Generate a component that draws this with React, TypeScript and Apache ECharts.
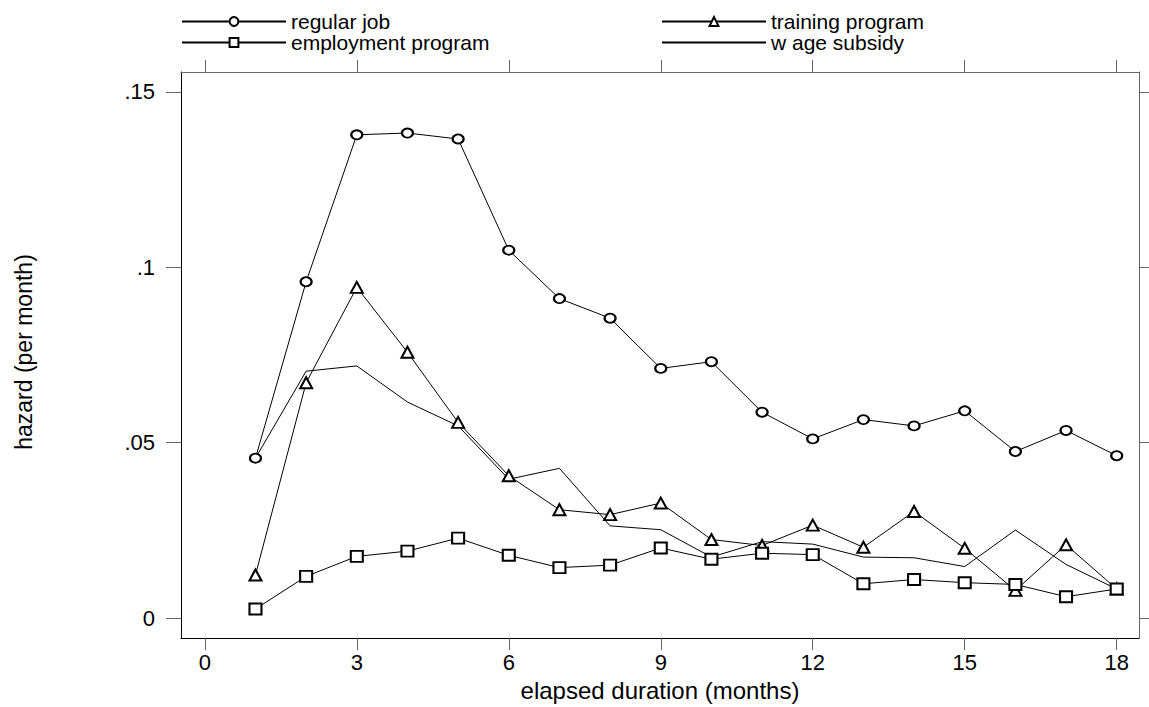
import React, { useEffect, useRef } from "react";
import * as echarts from "echarts";

const months = [1, 2, 3, 4, 5, 6, 7, 8, 9, 10, 11, 12, 13, 14, 15, 16, 17, 18];
const regularJob = [0.0456, 0.0959, 0.1378, 0.1383, 0.1366, 0.1049, 0.0911, 0.0855, 0.0712, 0.0731, 0.0587, 0.0511, 0.0566, 0.0548, 0.0591, 0.0475, 0.0535, 0.0463];
const trainingProgram = [0.0123, 0.0671, 0.0943, 0.0758, 0.0558, 0.0406, 0.0309, 0.0295, 0.0328, 0.0224, 0.0207, 0.0265, 0.0202, 0.0304, 0.0199, 0.0079, 0.0209, 0.0083];
const employmentProgram = [0.0026, 0.0119, 0.0176, 0.0191, 0.0228, 0.0179, 0.0144, 0.0151, 0.02, 0.0168, 0.0185, 0.0181, 0.0098, 0.011, 0.0101, 0.0096, 0.0061, 0.0083];
const wageSubsidy = [0.0456, 0.0704, 0.0719, 0.0616, 0.0548, 0.0396, 0.0427, 0.0263, 0.0252, 0.0174, 0.0218, 0.0211, 0.0174, 0.0172, 0.0147, 0.0251, 0.0153, 0.0083];

const xTicks = [0, 3, 6, 9, 12, 15, 18];
const yTicks = [0, 0.05, 0.1, 0.15];

const FONT = "'Liberation Sans', Arial, Helvetica, sans-serif";

export default function App() {
  const ref = useRef<HTMLDivElement>(null);
  useEffect(() => {
    if (!ref.current) return;
    const chart = echarts.init(ref.current, null, { renderer: "svg" });
    const pair = (ys: number[]) => months.map((m, i) => [m, ys[i]]);
    const lineStyle = { color: "#000", width: 1 };
    const mk = (name: string, ys: number[], symbol: string, size: number[] | number) => ({
      name,
      type: "line",
      data: pair(ys),
      symbol,
      symbolSize: size,
      showSymbol: symbol !== "none",
      lineStyle,
      itemStyle: { color: "#000", borderColor: "#000", borderWidth: 1 },
      emphasis: { disabled: true },
    });
    const xMin = -0.47, xMax = 18.44, yMin = -0.0057, yMax = 0.1557;
    const legendBase = {
      padding: 0,
      itemWidth: 104,
      itemHeight: 11,
      selectedMode: false,
      itemStyle: { borderWidth: 1 },
      textStyle: { fontSize: 21, lineHeight: 20, color: "#000", fontFamily: FONT },
    };
    chart.setOption({
      animation: false,
      backgroundColor: "#fff",
      textStyle: { fontFamily: FONT },
      grid: { left: 181, top: 72, right: 10, bottom: 68 },
      legend: [
        { ...legendBase, left: 181, top: 11, data: ["regular job"] },
        { ...legendBase, left: 661, top: 11, data: ["training program"] },
        { ...legendBase, left: 181, top: 32, data: ["employment program"] },
        {
          ...legendBase,
          left: 661,
          top: 32,
          data: [{ name: "w age subsidy", itemStyle: { opacity: 0 } }],
        },
      ],
      xAxis: [
        {
          type: "value",
          position: "bottom",
          min: xMin,
          max: xMax,
          axisLine: { show: true, onZero: false, lineStyle: { color: "#000", width: 1 } },
          axisTick: { show: true, customValues: xTicks, length: 12, lineStyle: { color: "#666" } },
          axisLabel: { customValues: xTicks, fontSize: 22, margin: 13, color: "#000", fontFamily: FONT },
          splitLine: { show: false },
          name: "elapsed duration (months)",
          nameLocation: "middle",
          nameGap: 35,
          nameTextStyle: { fontSize: 24, color: "#000", fontFamily: FONT, verticalAlign: "top" },
        },
        {
          type: "value",
          position: "top",
          min: xMin,
          max: xMax,
          axisLine: { show: true, onZero: false, lineStyle: { color: "#666", width: 1 } },
          axisTick: { show: true, customValues: xTicks, length: 12, lineStyle: { color: "#666" } },
          axisLabel: { show: false },
          splitLine: { show: false },
        },
      ],
      yAxis: [
        {
          type: "value",
          position: "left",
          min: yMin,
          max: yMax,
          axisLine: { show: true, onZero: false, lineStyle: { color: "#000", width: 1 } },
          axisTick: { show: true, customValues: yTicks, length: 15, lineStyle: { color: "#666" } },
          axisLabel: {
            customValues: yTicks,
            fontSize: 22,
            margin: 26,
            color: "#000",
            fontFamily: FONT,
            formatter: (v: number) => (v === 0 ? "0" : String(+v.toFixed(2)).replace(/^0\./, ".")),
          },
          splitLine: { show: false },
        },
        {
          type: "value",
          position: "right",
          min: yMin,
          max: yMax,
          axisLine: { show: true, onZero: false, lineStyle: { color: "#666", width: 1 } },
          axisTick: { show: true, customValues: yTicks, length: 10, lineStyle: { color: "#666" } },
          axisLabel: { show: false },
          splitLine: { show: false },
        },
      ],
      graphic: [
        {
          type: "text",
          x: 24,
          y: 352,
          rotation: Math.PI / 2,
          style: {
            text: "hazard (per month)",
            fontSize: 23,
            fontFamily: FONT,
            fill: "#000",
            align: "center",
            verticalAlign: "middle",
          },
        },
      ],
      series: [
        mk("regular job", regularJob, "emptyCircle", [11, 9]),
        mk("training program", trainingProgram, "emptyTriangle", [12, 11]),
        mk("employment program", employmentProgram, "emptyRect", [12, 11]),
        mk("w age subsidy", wageSubsidy, "none", 0),
      ],
    });
    return () => chart.dispose();
  }, []);
  return (
    <div
      ref={ref}
      style={{ position: "fixed", left: 0, top: 0, width: 1149, height: 707, background: "#fff" }}
    />
  );
}
